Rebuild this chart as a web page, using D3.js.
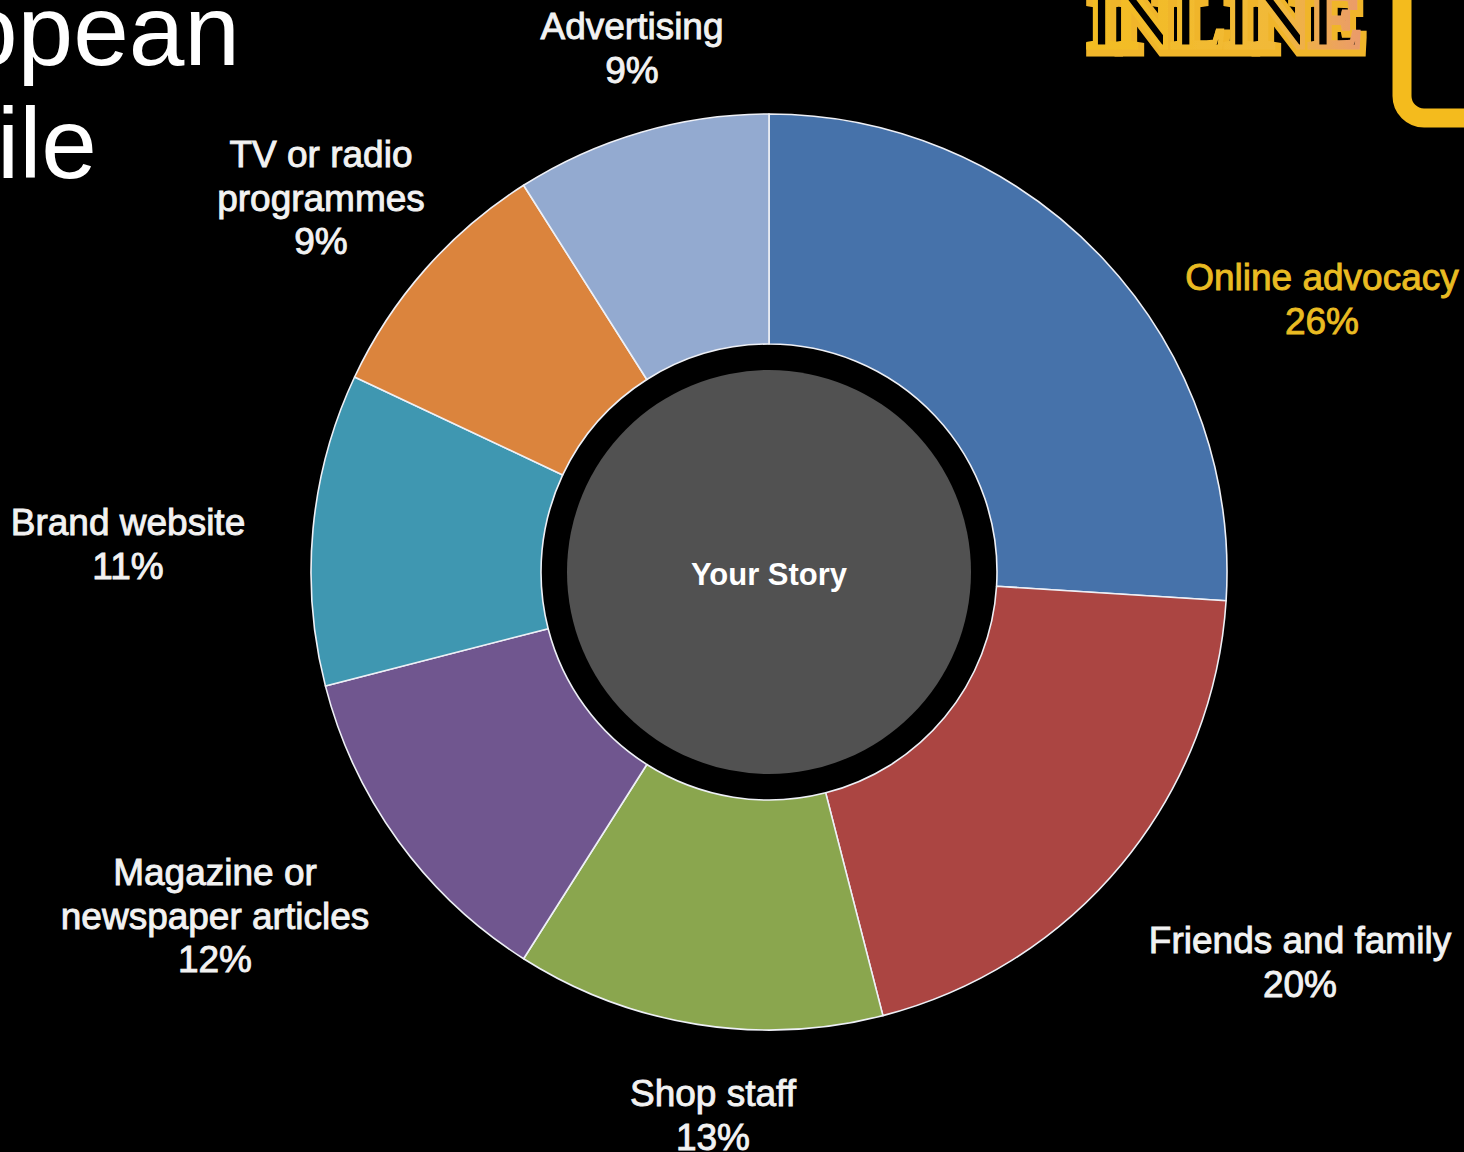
<!DOCTYPE html>
<html>
<head>
<meta charset="utf-8">
<script src="https://cdn.jsdelivr.net/npm/d3@7"></script>
<style>
  html, body { margin: 0; padding: 0; background: #000; }
  svg { display: block; }
</style>
</head>
<body>
<svg id="chart" width="1464" height="1152"></svg>
<script>
// Where shoppers hear about a product, share of mentions (%)
const categories = [
  "Online advocacy",
  "Friends and family",
  "Shop staff",
  "Magazine or newspaper articles",
  "Brand website",
  "TV or radio programmes",
  "Advertising"
];
const shares = [26, 20, 13, 12, 11, 9, 9];
const labelLines = [
  ["Online advocacy"],
  ["Friends and family"],
  ["Shop staff"],
  ["Magazine or", "newspaper articles"],
  ["Brand website"],
  ["TV or radio", "programmes"],
  ["Advertising"]
];
const centreText = "Your Story";
const titleLines = ["European", "mobile"];

const sliceColours = ["#4672aa", "#ab4542", "#8aa64e", "#70568f", "#3f97b1", "#db843d", "#93aad0"];

// label anchors (centre x, first baseline y)
const labelAnchor = {
  "Online advocacy": [1322, 290],
  "Friends and family": [1300, 953],
  "Shop staff": [713, 1106],
  "Magazine or newspaper articles": [215, 885],
  "Brand website": [128, 535],
  "TV or radio programmes": [321, 167],
  "Advertising": [632, 39]
};
const labelColour = { "Online advocacy": "#e9bb22" };

const W = 1464, H = 1152;
const cx = 769, cy = 572;
const rOuter = 458, rInner = 228, rCore = 202;
const lineGap = 43.5;

const svg = d3.select("#chart");
svg.append("rect").attr("width", W).attr("height", H).attr("fill", "#000");

// title, running off the left edge
const title = svg.append("g")
  .attr("font-family", "'Liberation Sans', Arial, Helvetica, sans-serif")
  .attr("font-size", 100)
  .attr("fill", "#fff")
  .attr("text-anchor", "end");
title.append("text").attr("x", 240).attr("y", 65).text(titleLines[0]);
title.append("text").attr("x", 97).attr("y", 178).text(titleLines[1]);

// logo in the top-right corner
const defs = svg.append("defs");
const grad = defs.append("linearGradient")
  .attr("id", "logoGrad").attr("x1", "0").attr("x2", "1").attr("y1", "0").attr("y2", "0");
grad.append("stop").attr("offset", "0").attr("stop-color", "#f3bd22");
grad.append("stop").attr("offset", "0.7").attr("stop-color", "#f1b93a");
grad.append("stop").attr("offset", "1").attr("stop-color", "#ea9a6c");

// yellow block shadow under the lettering
const shadow = defs.append("filter").attr("id", "logoShadow")
  .attr("x", "-10%").attr("y", "-20%").attr("width", "120%").attr("height", "150%");
shadow.append("feMorphology").attr("in", "SourceAlpha").attr("operator", "dilate").attr("radius", 3).attr("result", "fat");
shadow.append("feOffset").attr("in", "fat").attr("dx", 3).attr("dy", 4).attr("result", "off");
shadow.append("feFlood").attr("flood-color", "#f0b52a").attr("result", "col");
shadow.append("feComposite").attr("in", "col").attr("in2", "off").attr("operator", "in").attr("result", "sh");
const merge = shadow.append("feMerge");
merge.append("feMergeNode").attr("in", "sh");
merge.append("feMergeNode").attr("in", "SourceGraphic");

svg.append("text")
  .attr("x", 1224).attr("y", 47)
  .attr("text-anchor", "middle")
  .attr("font-family", "'Liberation Serif', 'DejaVu Serif', serif")
  .attr("font-weight", "bold")
  .attr("font-size", 80)
  .attr("textLength", 276)
  .attr("fill", "#000")
  .attr("stroke", "url(#logoGrad)")
  .attr("stroke-width", 5)
  .attr("filter", "url(#logoShadow)")
  .text("INLINE");

svg.append("rect")
  .attr("x", 1402).attr("y", -60)
  .attr("width", 200).attr("height", 178)
  .attr("rx", 22)
  .attr("fill", "none")
  .attr("stroke", "#f4bb1d")
  .attr("stroke-width", 19);

// doughnut ring
const pie = d3.pie().sort(null).value(d => d.value);
const arcs = pie(categories.map((c, i) => ({ name: c, value: shares[i] })));
const arc = d3.arc().innerRadius(rInner).outerRadius(rOuter);

const g = svg.append("g").attr("transform", `translate(${cx},${cy})`);
g.selectAll("path.slice")
  .data(arcs)
  .join("path")
  .attr("class", "slice")
  .attr("d", arc)
  .attr("fill", (d, i) => sliceColours[i])
  .attr("stroke", "#eef0f6")
  .attr("stroke-width", 1.6)
  .attr("stroke-linejoin", "round");

// centre disc
g.append("circle").attr("r", rCore).attr("fill", "#515151");
g.append("text")
  .attr("y", 13)
  .attr("text-anchor", "middle")
  .attr("font-family", "'Liberation Sans', Arial, Helvetica, sans-serif")
  .attr("font-weight", "bold")
  .attr("font-size", 31)
  .attr("fill", "#fff")
  .text(centreText);

// data labels
const labels = svg.append("g")
  .attr("font-family", "'Liberation Sans', Arial, Helvetica, sans-serif")
  .attr("font-size", 37)
  .attr("text-anchor", "middle");
arcs.forEach((d, i) => {
  const name = d.data.name;
  const [lx, ly] = labelAnchor[name];
  const colour = labelColour[name] || "#f2f2f2";
  const lines = labelLines[i].concat([d.data.value + "%"]);
  const t = labels.append("text")
    .attr("x", lx).attr("y", ly)
    .attr("fill", colour)
    .attr("stroke", colour)
    .attr("stroke-width", 0.9);
  lines.forEach((ln, k) => {
    t.append("tspan").attr("x", lx).attr("dy", k === 0 ? 0 : lineGap).text(ln);
  });
});
</script>
</body>
</html>
